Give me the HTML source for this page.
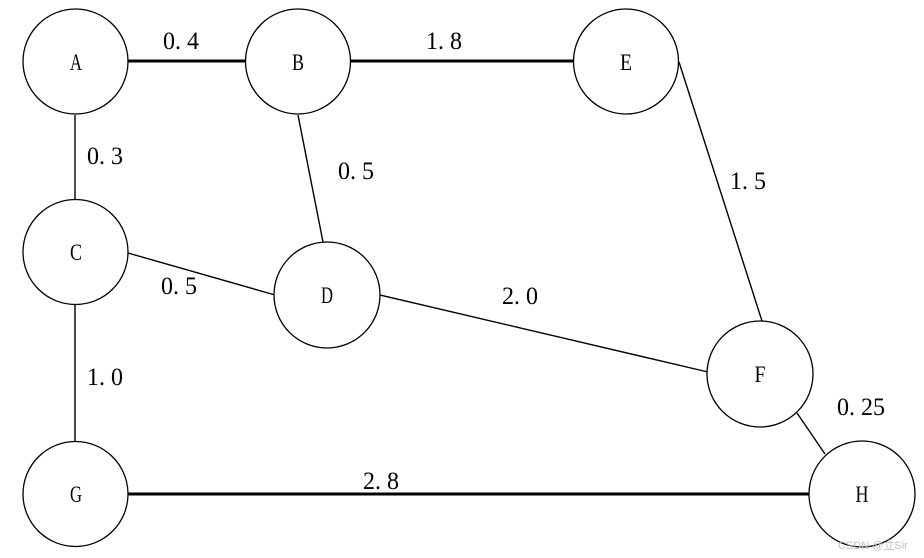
<!DOCTYPE html>
<html><head><meta charset="utf-8"><style>
html,body{margin:0;padding:0;background:#fff;}
svg{display:block;}
</style></head><body>
<svg width="924" height="558" viewBox="0 0 924 558" xmlns="http://www.w3.org/2000/svg">
<g stroke="#000" fill="none">
<line x1="128" y1="61" x2="245" y2="61" stroke-width="3"/>
<line x1="351" y1="61" x2="573" y2="61" stroke-width="3"/>
<line x1="128" y1="494" x2="809" y2="494" stroke-width="3"/>
<line x1="75" y1="115" x2="75" y2="200" stroke-width="1.4"/>
<line x1="75" y1="305" x2="75" y2="441" stroke-width="1.4"/>
<line x1="298" y1="115" x2="323" y2="242" stroke-width="1.4"/>
<line x1="128" y1="253" x2="275" y2="295" stroke-width="1.4"/>
<line x1="380" y1="295" x2="708" y2="372" stroke-width="1.4"/>
<line x1="679" y1="62" x2="762" y2="321" stroke-width="1.4"/>
<line x1="797" y1="413" x2="825" y2="454" stroke-width="1.4"/>
<g stroke-width="1.3" fill="#fff">
<circle cx="75.5" cy="61.5" r="52.5"/>
<circle cx="298" cy="61.5" r="52.5"/>
<circle cx="626" cy="61.5" r="52.5"/>
<circle cx="75.5" cy="252" r="52.5"/>
<circle cx="327" cy="295" r="53"/>
<circle cx="760" cy="374" r="53"/>
<circle cx="75.5" cy="494" r="52.5"/>
<circle cx="862" cy="494" r="53"/>
</g>
</g>
<g font-family="Liberation Serif, serif" font-size="23" text-anchor="middle" fill="#000">
<text x="76" y="70" textLength="12" lengthAdjust="spacingAndGlyphs">A</text>
<text x="298" y="70" textLength="12" lengthAdjust="spacingAndGlyphs">B</text>
<text x="626" y="70" textLength="12" lengthAdjust="spacingAndGlyphs">E</text>
<text x="76" y="260" textLength="12" lengthAdjust="spacingAndGlyphs">C</text>
<text x="327" y="303" textLength="12" lengthAdjust="spacingAndGlyphs">D</text>
<text x="760" y="382" textLength="11" lengthAdjust="spacingAndGlyphs">F</text>
<text x="76" y="502" textLength="12" lengthAdjust="spacingAndGlyphs">G</text>
<text x="862" y="502" textLength="13" lengthAdjust="spacingAndGlyphs">H</text>
</g>
<g font-family="Liberation Serif, serif" font-size="25" text-anchor="middle" fill="#000">
<text x="181" y="49" textLength="36" lengthAdjust="spacingAndGlyphs">0. 4</text>
<text x="444" y="49" textLength="36" lengthAdjust="spacingAndGlyphs">1. 8</text>
<text x="105" y="164" textLength="36" lengthAdjust="spacingAndGlyphs">0. 3</text>
<text x="356" y="179" textLength="36" lengthAdjust="spacingAndGlyphs">0. 5</text>
<text x="748" y="189" textLength="36" lengthAdjust="spacingAndGlyphs">1. 5</text>
<text x="179" y="294" textLength="36" lengthAdjust="spacingAndGlyphs">0. 5</text>
<text x="520" y="304" textLength="36" lengthAdjust="spacingAndGlyphs">2. 0</text>
<text x="105" y="385" textLength="36" lengthAdjust="spacingAndGlyphs">1. 0</text>
<text x="861" y="415" textLength="48" lengthAdjust="spacingAndGlyphs">0. 25</text>
<text x="381" y="489" textLength="36" lengthAdjust="spacingAndGlyphs">2. 8</text>
</g>
<text x="838" y="549" font-size="11" font-family="Liberation Sans, Noto Sans CJK SC, sans-serif" fill="#c0c0c0">CSDN @立Sir</text>
</svg>
</body></html>
